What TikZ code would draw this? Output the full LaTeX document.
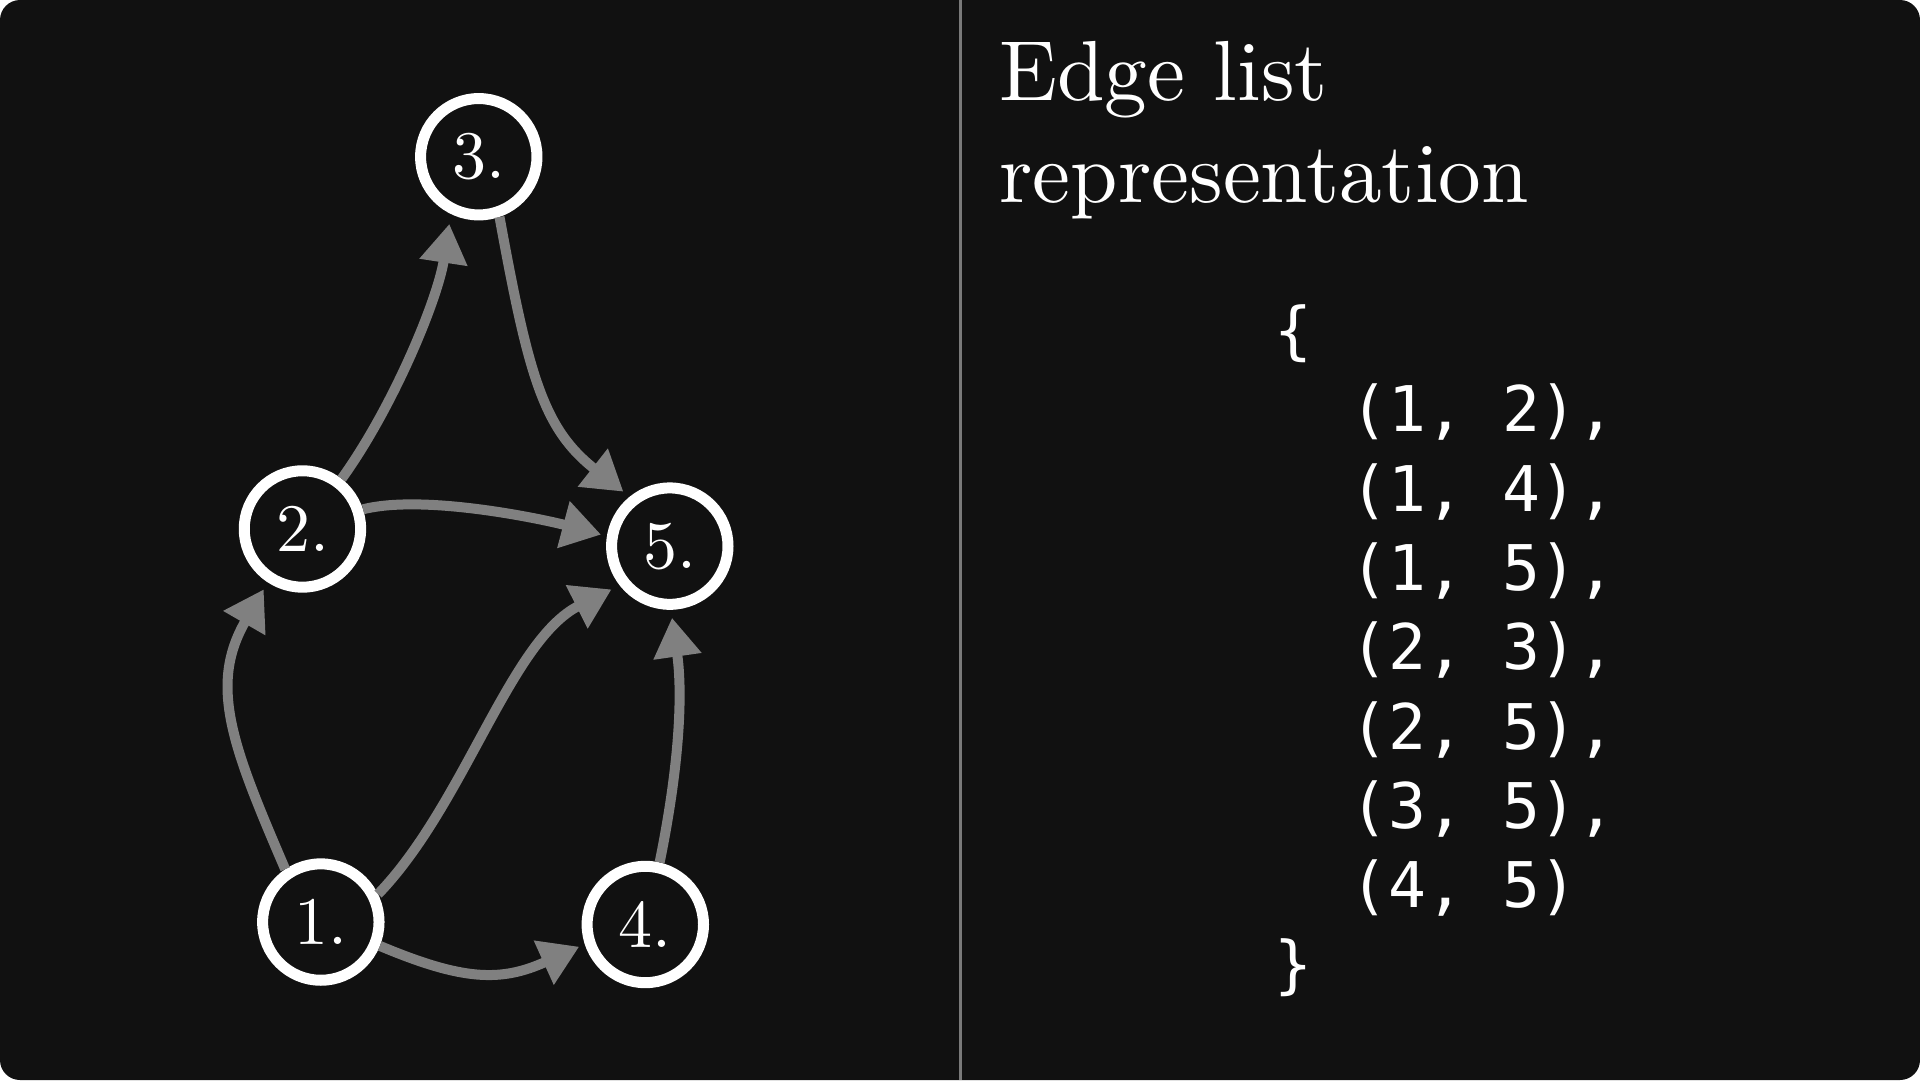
\documentclass[tikz,border=0pt]{standalone}
\usepackage{fontspec}
\newfontfamily\codefont{DejaVu Sans Mono}
\usetikzlibrary{arrows.meta}
\font\titlefont="[lmroman10-regular]:mapping=tex-text" at 85.3pt
\font\labelfont="[lmroman10-regular]:mapping=tex-text" at 68pt
\definecolor{bg}{HTML}{111111}
\definecolor{edgegray}{HTML}{808080}
\definecolor{divgray}{HTML}{7A7A7A}
\tikzset{
  vertex/.style={circle, draw=white, line width=11pt, minimum size=116.4pt, inner sep=0pt, text=white, font=\labelfont},
  edge/.style={draw=edgegray, line width=10pt, -{Triangle[length=39pt,width=46pt]}},
  title/.style={anchor=base west, inner sep=0pt, text=white, font=\titlefont},
  code/.style={anchor=base west, inner sep=0pt, text=white, font={\codefont\fontsize{63pt}{78pt}\selectfont}}
}
\begin{document}
\begin{tikzpicture}[x=1.2245pt,y=-1.2245pt]
\useasboundingbox (0,0) rectangle (1568,882);
\fill[white] (0,0) rectangle (1568,882);
\fill[bg, rounded corners=20pt] (0,0) rectangle (1568,882);
\draw[divgray, line width=3pt] (784,0) -- (784,882);

% vertices
\node[vertex] (n1) at (262,753) {1.};
\node[vertex] (n2) at (247,432) {2.};
\node[vertex] (n3) at (391,128) {3.};
\node[vertex] (n4) at (527,755) {4.};
\node[vertex] (n5) at (547,446) {5.};

% edges
\draw[edge, shorten >=8pt] (n1.124) .. controls (190,610) and (170,560) .. (n2.237);
\draw[edge, shorten >=10pt] (n2.52) .. controls (321.3,332.3) and (357.6,244.1) .. (n3.244);
\draw[edge, shorten >=8pt] (n3.289) .. controls (431.6,306.7) and (443.6,350) .. (n5.129);
\draw[edge, shorten >=6pt] (n2.18) .. controls (347.5,403) and (447.3,425) .. (n5.171);
\draw[edge, shorten >=9pt] (n1.26) .. controls (379.3,657.1) and (416.6,522.9) .. (n5.218);
\draw[edge, shorten >=6pt] (n1.338) .. controls (378.6,801.2) and (409.3,801.9) .. (n4.198);
\draw[edge, shorten >=8pt] (n4.77) .. controls (554.7,625.9) and (557.7,567.3) .. (n5.271);

% title
\node[title] (t1) at (816,81.7) {Edge list};
\node[title] (t2) at (816,165.5) {representation};

% edge list
\node[code] (c0) at (1040.7,288) {\{};
\node[code] (c1) at (1102.6,352.75) {(1, 2),};
\node[code] (c2) at (1102.6,417.5) {(1, 4),};
\node[code] (c3) at (1102.6,482.25) {(1, 5),};
\node[code] (c4) at (1102.6,547) {(2, 3),};
\node[code] (c5) at (1102.6,611.75) {(2, 5),};
\node[code] (c6) at (1102.6,676.5) {(3, 5),};
\node[code] (c7) at (1102.6,741.25) {(4, 5)};
\node[code] (c8) at (1040.7,806) {\}};
\end{tikzpicture}
\end{document}
